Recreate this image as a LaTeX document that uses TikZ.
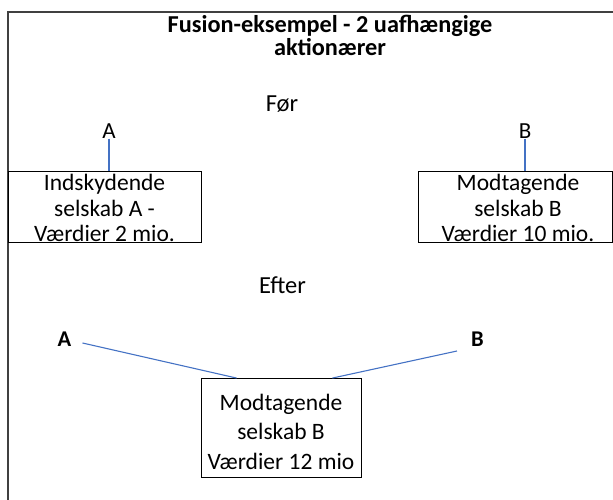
\documentclass[tikz,border=0pt]{standalone}
\usepackage{fontspec}
\setmainfont{Carlito}
\usetikzlibrary{calc}
\definecolor{linkblue}{RGB}{68,114,196}
\definecolor{framegray}{RGB}{64,64,64}
\tikzset{
  body/.style={font=\fontsize{24.5}{26}\selectfont, inner sep=0pt},
  heading/.style={font=\fontsize{24.3}{23}\selectfont\bfseries, inner sep=0pt, align=center},
  owner/.style={font=\fontsize{23}{26}\selectfont, inner sep=0pt},
  ownerbold/.style={font=\fontsize{22.5}{24}\selectfont\bfseries, inner sep=0pt},
  company/.style={draw=black, line width=0.9pt, inner sep=0pt},
  companytext/.style={align=center, inner sep=0pt},
  link/.style={draw=linkblue, line width=1.1pt},
}
\begin{document}
\begin{tikzpicture}[x=1pt,y=-1pt]
\useasboundingbox (0,0) rectangle (613,500);
% outer frame, open to the right and bottom
\draw[framegray, line width=1.4pt] (8,500) -- (8,12) -- (613,12);

\node[heading] (title) at (330,35) {Fusion-eksempel - 2 uafhængige\\aktionærer};

% before the merger
\node[body] (before) at (282,104) {Før};
\node[owner] (ownA) at (109,131) {A};
\node[owner] (ownB) at (525,131) {B};
\node[company, minimum width=193pt, minimum height=71pt] (boxA) at (104.5,206.5) {};
\node[companytext, font=\fontsize{23.5}{25.5}\selectfont] (boxAtext)
      at ($(boxA.center)+(0,1.5)$) {Indskydende\\selskab A -\\Værdier 2 mio.};
\node[company, minimum width=194pt, minimum height=71pt] (boxB) at (515,206.5) {};
\node[companytext, font=\fontsize{23.5}{25.5}\selectfont] (boxBtext)
      at ($(boxB.center)+(3,1.5)$) {Modtagende\\selskab B\\Værdier 10 mio.};
\draw[link] (ownA.south) -- (ownA.south |- boxA.north);
\draw[link] (ownB.south) -- (ownB.south |- boxB.north);

% after the merger
\node[body] (after) at (282.5,285) {Efter};
\node[ownerbold] (newA) at (64.5,339) {A};
\node[ownerbold] (newB) at (477.5,339) {B};
\node[company, minimum width=160pt, minimum height=99pt] (boxC) at (281,428) {};
\node[companytext, font=\fontsize{23.5}{29.5}\selectfont] (boxCtext)
      at ($(boxC.center)+(0,3.5)$) {Modtagende\\selskab B\\Værdier 12 mio};
\draw[link] ($(newA.east)+(11,4)$) -- ($(boxC.north west)+(36,0)$);
\draw[link] ($(newB.west)+(-14,12)$) -- ($(boxC.north east)+(-29,0)$);
\end{tikzpicture}
\end{document}
